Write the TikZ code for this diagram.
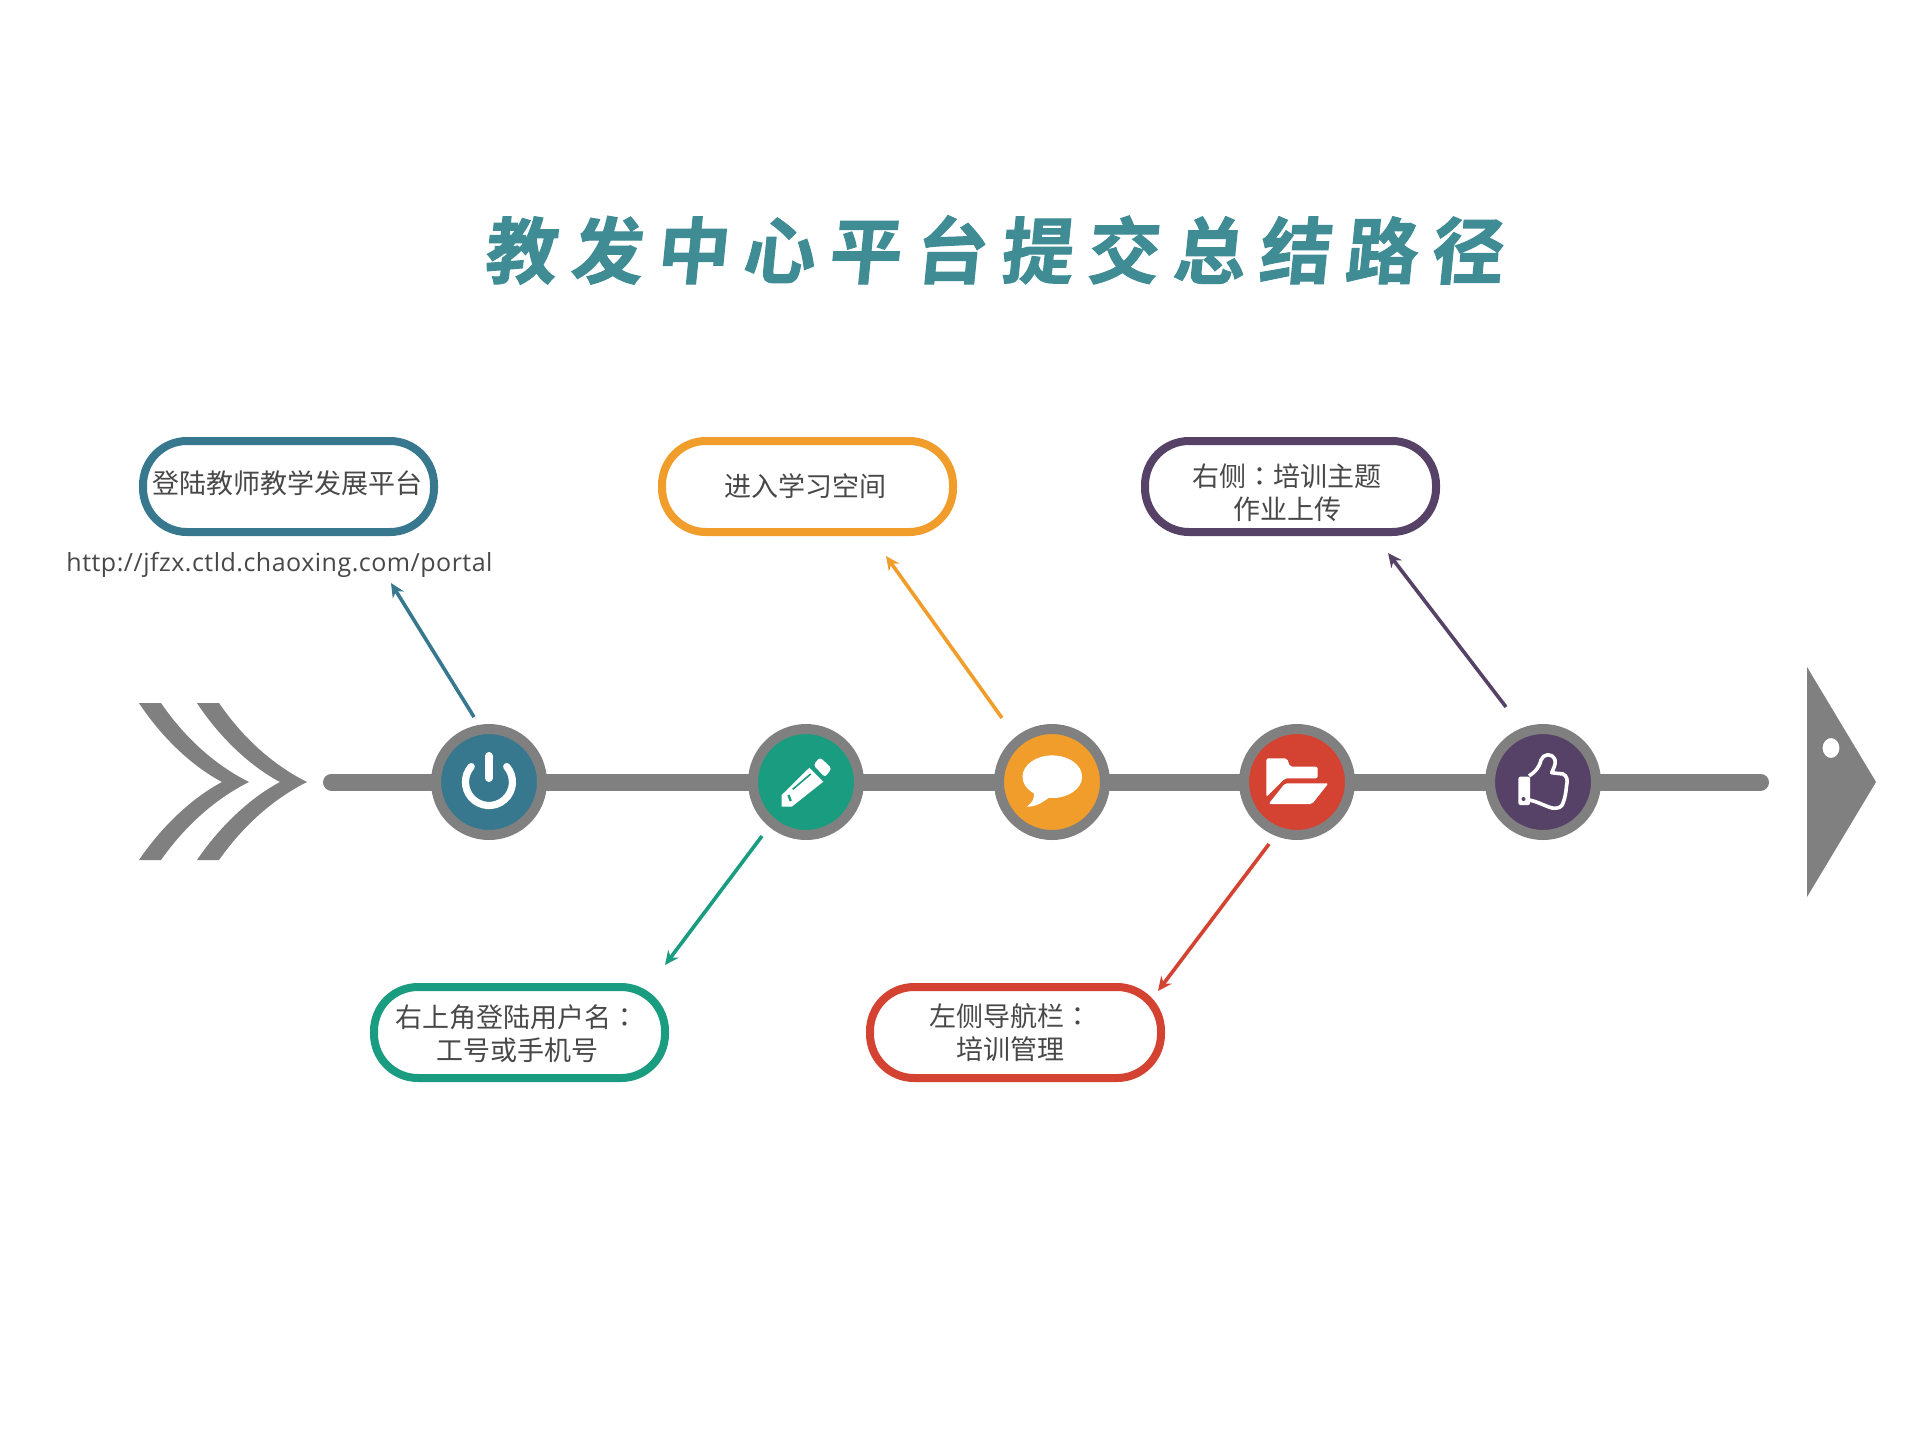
\documentclass[tikz,border=0pt]{standalone}
\usepackage{fontspec}
\setmainfont{Noto Sans CJK SC}[BoldFont={* Bold}]
\newfontfamily\titlefont[FakeSlant=0.1,FakeBold=1.5,LetterSpace=19.5]{Noto Sans CJK SC Bold}
\newfontfamily\urlfont[LetterSpace=2]{Open Sans}
\newfontfamily\tcfont{Noto Sans CJK TC}
\newcommand{\fwcolon}{{\tcfont ：}}
\usetikzlibrary{arrows.meta}
\definecolor{cblue}{HTML}{38788F}
\definecolor{cgreen}{HTML}{1A9C80}
\definecolor{corange}{HTML}{F09D2B}
\definecolor{cred}{HTML}{D44332}
\definecolor{cpurple}{HTML}{574267}
\definecolor{cgrey}{HTML}{808080}
\definecolor{cteal}{HTML}{3F8C94}
\definecolor{ctext}{HTML}{484848}
\tikzset{
  x=0.5pt,y=-0.5pt,
  pill/.style={draw=#1,line width=4pt,rounded corners=22pt,rectangle,fill=white,minimum width=145.5pt,minimum height=45.5pt,inner sep=0pt},
  pilltext/.style={text=ctext,align=center,inner sep=0pt,font=\fontsize{13.5}{16.5}\selectfont},
  disc/.style={circle,draw=cgrey,fill=#1,line width=5pt,minimum size=53pt,inner sep=0pt},
  link/.style={draw=#1,line width=1.8pt,-{Stealth[length=7pt,width=6.5pt]}},
}
\begin{document}
\begin{tikzpicture}
\useasboundingbox[fill=white] (0,0) rectangle (1920,1440);
% title
\node[text=cteal,inner sep=0pt,font=\titlefont\fontsize{36}{42}\selectfont] (title) at (993,250) {教发中心平台提交总结路径};
% chevrons
\foreach \dx in {0,58}{
  \fill[cgrey] (139+\dx,703) -- (161+\dx,703) .. controls (185+\dx,738) and (215+\dx,765) .. (249+\dx,782)
     .. controls (215+\dx,799) and (185+\dx,826) .. (161+\dx,860) -- (139+\dx,860)
     .. controls (160+\dx,829) and (190+\dx,799) .. (222+\dx,782)
     .. controls (190+\dx,765) and (160+\dx,735) .. (139+\dx,703) -- cycle;
}
% arrow head at right
\fill[cgrey,even odd rule] (1807,667) -- (1876,782) -- (1807,897) -- cycle
   (1831,748) ellipse [x radius=8.5,y radius=10];
% spine
\coordinate (spineL) at (323,782);
\coordinate (spineR) at (1769,782);
\draw[cgrey,line width=8.5pt,line cap=round] ([xshift=4.25pt]spineL) -- ([xshift=-4.25pt]spineR);
% discs
\node[disc=cblue] (d1) at (489,782) {};
\node[disc=cgreen] (d2) at (806,782) {};
\node[disc=corange] (d3) at (1052,782) {};
\node[disc=cred] (d4) at (1297,782) {};
\node[disc=cpurple] (d5) at (1543,782) {};
% power icon
\draw[white,line width=3.6pt,line cap=round] (506.7,766.6) arc [start angle=-41,end angle=221,radius=23.5];
\draw[white,line width=4pt,line cap=round] (489,756) -- (489,778);
% pencil icon
\fill[white,rounded corners=1.5pt] (820,757.3) -- (831.7,768.3) -- (825,777.3) -- (813.3,765) -- cycle;
\fill[white] (809.3,767.7) -- (823.3,781.7) -- (791.7,806.7) -- (781.7,806.7) -- (781.7,795) -- cycle;
\draw[cgreen,line width=0.8pt] (792.7,789.3) -- (810.7,774);
\draw[cgreen,line width=1.2pt] (788.5,795) -- (790.7,801);
% speech icon
\fill[white] (1052.3,776.7) ellipse [x radius=29.8,y radius=21.3];
\fill[white] (1033,790) .. controls (1036,798) and (1032,803) .. (1026.7,806.7) .. controls (1036,807) and (1043,802) .. (1050,797) -- cycle;
% folder icon
\fill[white,rounded corners=1pt] (1266.4,758.3) -- (1287,758.3) -- (1290,766.7) -- (1317.6,766.7) -- (1317.6,778.3) -- (1285,778.3) -- (1266.4,797) -- cycle;
\fill[white,rounded corners=1pt] (1285,783.3) -- (1328.4,783.3) -- (1312,804) -- (1268.6,804) -- cycle;
% thumb icon
\fill[white,rounded corners=1pt] (1518.4,776.7) -- (1530,776.7) -- (1530,805) -- (1518.4,805) -- cycle;
\draw[white,line width=1.8pt,line join=round] (1529,776) .. controls (1535,772) and (1539,768) .. (1541,760)
  .. controls (1543,754) and (1552,752) .. (1555,760)
  .. controls (1556,765) and (1553,769) .. (1551.7,772.7)
  -- (1563,774) .. controls (1567,776) and (1568,780) .. (1566.5,786)
  .. controls (1566,792) and (1565,798) .. (1563,803)
  .. controls (1562,807) and (1558,809) .. (1552,808)
  .. controls (1545,806) and (1536,801) .. (1529,800);
\fill[cpurple] (1523.5,799) circle [radius=2];
% pills
\node[pill=cblue] (p1) at (288.5,486.5) {};
\node[pill=corange] (p2) at (807.5,486.5) {};
\node[pill=cpurple] (p3) at (1290.5,486.5) {};
\node[pill=cgreen] (p4) at (519.5,1032.5) {};
\node[pill=cred] (p5) at (1015.5,1032.5) {};
% texts
\node[pilltext] (t1) at (287,483) {登陆教师教学发展平台};
\node[pilltext] (t2) at (805,486) {进入学习空间};
\node[pilltext] (t3) at (1287,493) {右侧\fwcolon 培训主题\\作业上传};
\node[pilltext] (t4) at (517,1034) {右上角登陆用户名\fwcolon\\工号或手机号};
\node[pilltext] (t5) at (1010,1033) {左侧导航栏\fwcolon\\培训管理};
\node[text=ctext,inner sep=0pt,font=\urlfont\fontsize{12.5}{15}\selectfont] (url) at (279.5,565) {http://jfzx.ctld.chaoxing.com/portal};
% connectors
\coordinate (a1s) at (474,717); \coordinate (a1e) at (391,583);
\coordinate (a2s) at (762,836); \coordinate (a2e) at (665,965);
\coordinate (a3s) at (1002,718); \coordinate (a3e) at (886,556);
\coordinate (a4s) at (1269,844); \coordinate (a4e) at (1158,991);
\coordinate (a5s) at (1506,707); \coordinate (a5e) at (1388,553);
\draw[link=cblue] (a1s) -- (a1e);
\draw[link=cgreen] (a2s) -- (a2e);
\draw[link=corange] (a3s) -- (a3e);
\draw[link=cred] (a4s) -- (a4e);
\draw[link=cpurple] (a5s) -- (a5e);
\end{tikzpicture}
\end{document}
